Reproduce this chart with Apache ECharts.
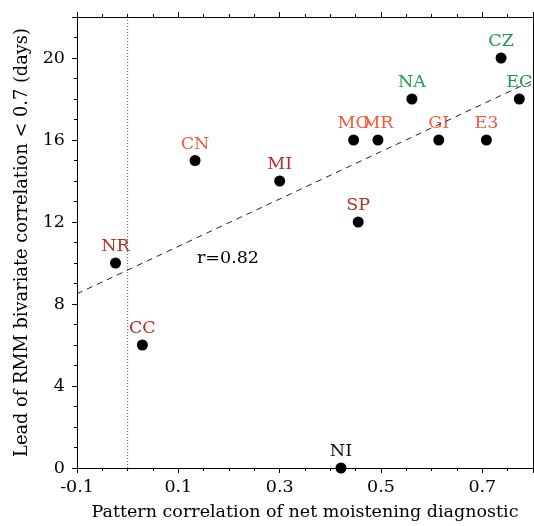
<!DOCTYPE html>
<html><head><meta charset="utf-8">
<script src="https://cdn.jsdelivr.net/npm/echarts@6/dist/echarts.min.js"></script>
<style>html,body{margin:0;padding:0;background:#fff;overflow:hidden}#c{width:534px;height:526px}</style>
</head><body><div id="c"></div>
<script>
const names = ['NR','CC','CN','MI','SP','MO','MR','NA','GI','E3','CZ','EC','NI'];
const xVals = [-0.024, 0.029, 0.133, 0.300, 0.455, 0.446, 0.494, 0.561, 0.614, 0.708, 0.737, 0.773, 0.421];
const yVals = [10, 6, 15, 14, 12, 16, 16, 18, 16, 16, 20, 18, 0];
const groups = ['dark','dark','orange','dark','dark','orange','orange','green','orange','orange','green','green','black'];
const groupColors = {dark:'#b2302c', orange:'#f25a3c', green:'#1b9a4b', black:'#111111'};
const fitLine = [[-0.1, 8.5], [0.8, 18.9]];
const refLineX = 0;
const rText = 'r=0.82';
const rPos = [0.198, 10.2];
const xLabels = ['-0.1','0.1','0.3','0.5','0.7'];
const yLabels = ['0','4','8','12','16','20'];

const font = 'DejaVu Serif';
const FS = 17.5;
const chart = echarts.init(document.getElementById('c'), null, {renderer:'canvas', width:534, height:526});
const pts = names.map((n,i)=>({
  value:[xVals[i], yVals[i]], name:n,
  label:{color: groupColors[groups[i]]}
}));
const baseX = {
  type:'value', min:-0.1, max:0.8, interval:0.2,
  axisLine:{show:true, onZero:false, lineStyle:{color:'#000', width:1}},
  axisTick:{show:true, inside:false, length:5, lineStyle:{color:'#000'}},
  minorTick:{show:true, splitNumber:4, length:3, lineStyle:{color:'#000'}},
  splitLine:{show:false}
};
const baseY = {
  type:'value', min:0, max:22, interval:4,
  axisLine:{show:true, onZero:false, lineStyle:{color:'#000', width:1}},
  axisTick:{show:true, inside:false, length:5, lineStyle:{color:'#000'}},
  minorTick:{show:true, splitNumber:4, length:3, lineStyle:{color:'#000'}},
  splitLine:{show:false}
};
chart.setOption({
  animation:false,
  backgroundColor:'#fff',
  textStyle:{fontFamily:font},
  grid:{left:77, right:1, top:17, bottom:53, containLabel:false},
  xAxis:[
    Object.assign({}, baseX, {
      position:'bottom',
      axisLabel:{show:true, fontFamily:font, fontSize:FS, color:'#000', margin:10, showMaxLabel:false,
        formatter:v=>{const s=(Math.round(v*10)/10).toFixed(1); return xLabels.includes(s)?s:'';}},
      name:'Pattern correlation of net moistening diagnostic', nameLocation:'middle', nameGap:35,
      nameTextStyle:{fontFamily:font, fontSize:FS, color:'#000'}
    }),
    Object.assign({}, baseX, {position:'top', axisLabel:{show:false}})
  ],
  yAxis:[
    Object.assign({}, baseY, {
      position:'left',
      axisLabel:{show:true, fontFamily:font, fontSize:FS, color:'#000', margin:12, showMaxLabel:false,
        formatter:v=>{const s=String(Math.round(v)); return yLabels.includes(s)?s:'';}},
      name:'Lead of RMM bivariate correlation < 0.7 (days)', nameLocation:'middle', nameGap:46,
      nameTextStyle:{fontFamily:font, fontSize:17.8, color:'#000'}
    }),
    Object.assign({}, baseY, {position:'right', axisTick:{show:false}, minorTick:{show:false}, axisLabel:{show:false}})
  ],
  series:[
    {type:'line', data:[[refLineX,0],[refLineX,22]], symbol:'none', silent:true,
      lineStyle:{color:'#555', width:1, type:[1,2]}},
    {type:'line', data:fitLine, symbol:'none', silent:true,
      lineStyle:{color:'#222', width:1, type:[6,5]}},
    {type:'scatter', data:pts, symbol:'circle', symbolSize:11, itemStyle:{color:'#000', opacity:1},
      label:{show:true, position:'top', distance:2, formatter:'{b}', fontFamily:font, fontSize:FS, opacity:1},
      clip:false},
    {type:'scatter', data:[{value:rPos, name:rText}], symbolSize:0, itemStyle:{opacity:1},
      label:{show:true, position:'inside', formatter:'{b}', fontFamily:font, fontSize:FS, color:'#000'}}
  ]
});
</script></body></html>
